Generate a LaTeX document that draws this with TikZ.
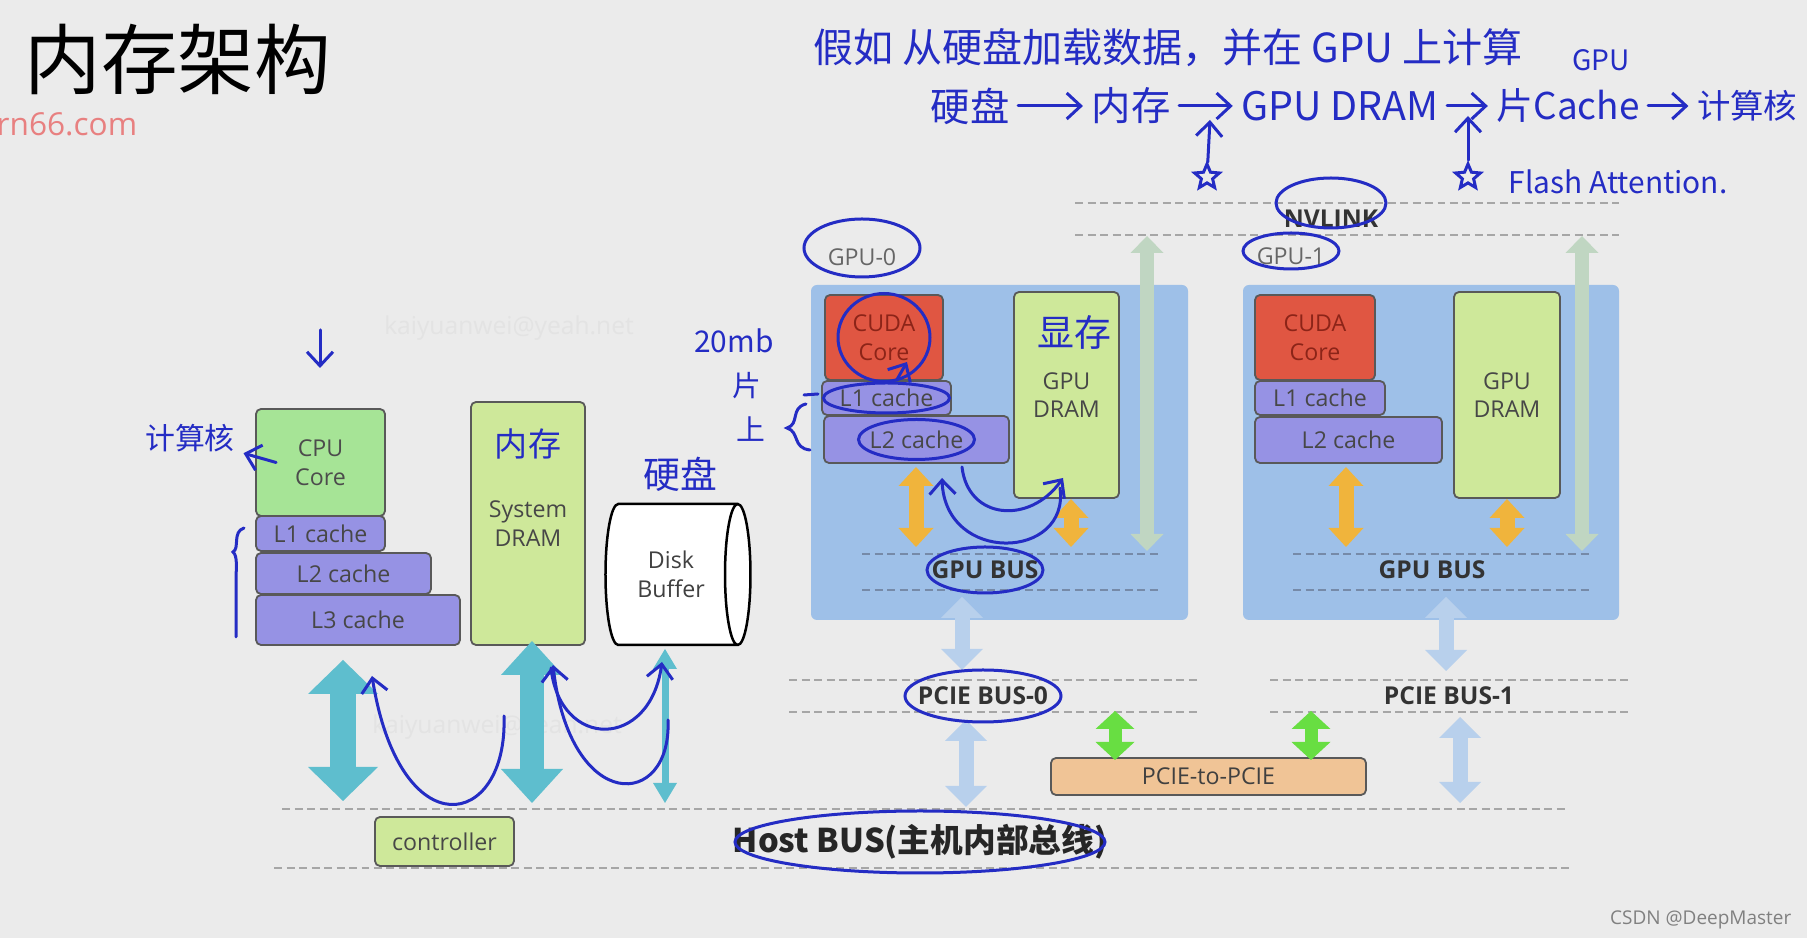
\documentclass[tikz,border=0pt]{standalone}
\usepackage{fontspec}
\setmainfont{Open Sans}
\newfontfamily\cjk{Noto Sans CJK SC}
\usetikzlibrary{arrows.meta,shapes.geometric}

\definecolor{bg}{RGB}{235,235,235}
\definecolor{cpugreen}{RGB}{166,228,150}
\definecolor{dramgreen}{RGB}{206,232,154}
\definecolor{cachepurple}{RGB}{150,146,228}
\definecolor{cudared}{RGB}{224,86,66}
\definecolor{cudatext}{RGB}{140,36,24}
\definecolor{gpublue}{RGB}{158,192,232}
\definecolor{gpudash}{RGB}{118,138,168}
\definecolor{pcietan}{RGB}{240,196,150}
\definecolor{busteal}{RGB}{94,190,206}
\definecolor{paleblue}{RGB}{184,208,236}
\definecolor{sage}{RGB}{192,214,194}
\definecolor{amber}{RGB}{240,180,60}
\definecolor{pcigreen}{RGB}{104,222,66}
\definecolor{ink}{RGB}{36,44,196}
\definecolor{markred}{RGB}{232,128,128}
\definecolor{wmgray}{RGB}{227,227,227}

\newcommand{\boxfont}{\fontsize{6.6}{8.1}\selectfont}
\newcommand{\busfont}{\fontsize{7}{8}\selectfont\bfseries}

\begin{document}
\begin{tikzpicture}[x=0.1mm, y=-0.1mm,
  every node/.style={align=center, font=\boxfont, inner sep=0pt},
  blk/.style={draw=black!65, line width=0.18mm, rounded corners=0.5mm},
  cpubox/.style={blk, fill=cpugreen, text=black!70},
  cachebox/.style={blk, fill=cachepurple, text=black!72},
  drambox/.style={blk, fill=dramgreen, text=black!72},
  cudabox/.style={blk, fill=cudared, text=cudatext},
  gpubox/.style={fill=gpublue, rounded corners=0.6mm},
  buslbl/.style={font=\busfont, text=black!80},
  busline/.style={dash pattern=on 0.8mm off 0.45mm, line width=0.22mm, draw=black!35},
  fat/.style n args={4}{draw=#1, line width=#2,
    >={Triangle[width=#3, length=#4, line width=0pt]}, <->},
  hand/.style={draw=ink, line width=0.3mm, line cap=round},
  handarr/.style={hand, -{Straight Barb[length=1.4mm, width=2.6mm]}},
  handtxt/.style={font={\cjk\fontsize{#1}{#1}\selectfont}, text=ink, inner sep=0.8mm},
  handstar/.style={star, star points=5, star point ratio=2.2, draw=ink,
    line width=0.3mm, minimum size=2.6mm, inner sep=0pt}
]
  \useasboundingbox (0,0) rectangle (1807,938);
  \clip (0,0) rectangle (1807,938);
  \fill[bg] (0,0) rectangle (1807,938);

  % title, marks
  \node[font=\cjk\fontsize{21.8}{26}\selectfont] (title) at (178,59) {内存架构};
  \node[font=\fontsize{9}{10}\selectfont, text=markred, anchor=west] (site) at (-4,124) {rn66.com};
  \node[font=\fontsize{5.4}{6}\selectfont, text=black!50, anchor=east] (csdn) at (1792,920) {CSDN @DeepMaster};
  \node[text=wmgray, font=\fontsize{7}{8}\selectfont] (wm1) at (509,328) {kaiyuanwei@yeah.net};
  \node[text=wmgray, font=\fontsize{7}{8}\selectfont] (wm2) at (497,727) {kaiyuanwei@yeah.net};

  % host side
  \node[cpubox, minimum width=12.9mm, minimum height=10.7mm] (cpu) at (320.5,462.5) {CPU\\Core};
  \node[cachebox, minimum width=12.9mm, minimum height=3.5mm] (l1c) at (320.5,533.5) {L1 cache};
  \node[cachebox, minimum width=17.5mm, minimum height=4.1mm] (l2c) at (343.5,573.5) {L2 cache};
  \node[cachebox, minimum width=20.4mm, minimum height=5mm] (l3c) at (358,620) {L3 cache};
  \node[drambox, minimum width=11.4mm, minimum height=24.3mm] (sysdram) at (528,523.5) {System\\DRAM};
  \node[cylinder, draw=black, line width=0.25mm, fill=white, shape aspect=0.55,
        minimum width=14.1mm, minimum height=14.5mm, text=black!75] (disk) at (671,574.5) {Disk\\Buffer};
  \node[drambox, minimum width=13.9mm, minimum height=4.9mm] (ctrl) at (444.5,841.5) {controller};

  % GPU-0
  \node[text=black!60] (gpu0lbl) at (862,257) {GPU-0};
  \node[gpubox, minimum width=37.7mm, minimum height=33.5mm] (gpu0) at (999.5,452.5) {};
  \node[cudabox, minimum width=11.8mm, minimum height=8.5mm] (cuda0) at (884,337.5) {CUDA\\Core};
  \node[cachebox, minimum width=12.9mm, minimum height=3.4mm] (l1g0) at (886.5,398) {L1 cache};
  \node[cachebox, minimum width=18.5mm, minimum height=4.7mm] (l2g0) at (916.5,439.5) {L2 cache};
  \node[drambox, minimum width=10.5mm, minimum height=20.6mm] (dram0) at (1066.5,395) {GPU\\DRAM};
  \draw[busline, draw=gpudash] (862,554) -- (1158,554);
  \draw[busline, draw=gpudash] (862,590) -- (1158,590);
  \node[buslbl] (gpubus0) at (985,570) {GPU BUS};

  % GPU-1
  \node[text=black!60] (gpu1lbl) at (1291,256) {GPU-1};
  \node[gpubox, minimum width=37.6mm, minimum height=33.5mm] (gpu1) at (1431,452.5) {};
  \node[cudabox, minimum width=12mm, minimum height=8.5mm] (cuda1) at (1315,337.5) {CUDA\\Core};
  \node[cachebox, minimum width=13mm, minimum height=3.4mm] (l1g1) at (1320,398) {L1 cache};
  \node[cachebox, minimum width=18.7mm, minimum height=4.6mm] (l2g1) at (1348.5,440) {L2 cache};
  \node[drambox, minimum width=10.6mm, minimum height=20.6mm] (dram1) at (1507,395) {GPU\\DRAM};
  \draw[busline, draw=gpudash] (1293,554) -- (1590,554);
  \draw[busline, draw=gpudash] (1293,590) -- (1590,590);
  \node[buslbl] (gpubus1) at (1432,570) {GPU BUS};

  % buses
  \draw[busline] (1075,203) -- (1619,203);
  \draw[busline] (1075,235) -- (1619,235);
  \node[buslbl] (nvlink) at (1331,219) {NVLINK};
  \draw[busline] (789,680) -- (1199,680);
  \draw[busline] (789,712) -- (1199,712);
  \node[buslbl] (pcie0) at (983,696) {PCIE BUS-0};
  \draw[busline] (1270,680) -- (1630,680);
  \draw[busline] (1270,712) -- (1630,712);
  \node[buslbl] (pcie1) at (1449,696) {PCIE BUS-1};
  \draw[busline] (282,809) -- (1567,809);
  \draw[busline] (274,868) -- (1570,868);
  \node[font=\cjk\fontsize{9.3}{11}\selectfont\bfseries, text=black!85] (host) at (920,842) {Host BUS(主机内部总线)};
  \node[blk, fill=pcietan, minimum width=31.5mm, minimum height=3.7mm, text=black!75] (p2p) at (1208.5,776.5) {PCIE-to-PCIE};

  % connector ends
  \coordinate (t1a) at (343,660);  \coordinate (t1b) at (343,801);
  \coordinate (t2a) at (532,641);  \coordinate (t2b) at (532,803);
  \coordinate (t3a) at (665,649);  \coordinate (t3b) at (665,803);
  \coordinate (nv0a) at (1147,236); \coordinate (nv0b) at (1147,551);
  \coordinate (nv1a) at (1582,236); \coordinate (nv1b) at (1582,551);
  \coordinate (o0a) at (916,467);  \coordinate (o0b) at (916,547);
  \coordinate (o0c) at (1071,499); \coordinate (o0d) at (1071,547);
  \coordinate (o1a) at (1346,467); \coordinate (o1b) at (1346,547);
  \coordinate (o1c) at (1507,499); \coordinate (o1d) at (1507,547);
  \coordinate (b0a) at (962,597);  \coordinate (b0b) at (962,670);
  \coordinate (h0a) at (966,720);  \coordinate (h0b) at (966,807);
  \coordinate (b1a) at (1446,597); \coordinate (b1b) at (1446,671);
  \coordinate (h1a) at (1460,717); \coordinate (h1b) at (1460,803);
  \coordinate (g0a) at (1115,711); \coordinate (g0b) at (1115,760);
  \coordinate (g1a) at (1311,711); \coordinate (g1b) at (1311,760);

  \draw[fat={busteal}{2.6mm}{7mm}{3.4mm}] (t1a) -- (t1b);
  \draw[fat={busteal}{2.4mm}{6.2mm}{3.4mm}] (t2a) -- (t2b);
  \draw[fat={busteal}{0.7mm}{2.4mm}{2mm}] (t3a) -- (t3b);
  \draw[fat={sage}{1.4mm}{3.3mm}{1.7mm}] (nv0a) -- (nv0b);
  \draw[fat={sage}{1.4mm}{3.3mm}{1.7mm}] (nv1a) -- (nv1b);
  \draw[fat={amber}{1.5mm}{3.5mm}{1.9mm}] (o0a) -- (o0b);
  \draw[fat={amber}{1.5mm}{3.5mm}{1.9mm}] (o0c) -- (o0d);
  \draw[fat={amber}{1.5mm}{3.5mm}{1.9mm}] (o1a) -- (o1b);
  \draw[fat={amber}{1.5mm}{3.5mm}{1.9mm}] (o1c) -- (o1d);
  \draw[fat={paleblue}{1.5mm}{4.2mm}{2.1mm}] (b0a) -- (b0b);
  \draw[fat={paleblue}{1.5mm}{4.2mm}{2.1mm}] (h0a) -- (h0b);
  \draw[fat={paleblue}{1.5mm}{4.2mm}{2.1mm}] (b1a) -- (b1b);
  \draw[fat={paleblue}{1.5mm}{4.2mm}{2.1mm}] (h1a) -- (h1b);
  \draw[fat={pcigreen}{1.3mm}{3.9mm}{1.8mm}] (g0a) -- (g0b);
  \draw[fat={pcigreen}{1.3mm}{3.9mm}{1.8mm}] (g1a) -- (g1b);

  % handwritten notes
  \node[handtxt=11.4] (q1) at (1168,48) {假如 从硬盘加载数据，并在 GPU 上计算};
  \node[handtxt=11.2] (w1) at (970,106) {硬盘};
  \node[handtxt=11.2] (w2) at (1131,106) {内存};
  \node[handtxt=11.2] (w3) at (1340,106) {GPU DRAM};
  \node[handtxt=10.5] (w4) at (1568,106) {片Cache};
  \node[handtxt=9.5, anchor=east] (w5) at (1806,106) {计算核};
  \node[handtxt=8] (gpusm) at (1601,60) {GPU};
  \draw[handarr] (w1) -- (w2);
  \draw[handarr] (w2) -- (w3);
  \draw[handarr] (w3) -- (w4);
  \draw[handarr] (w4) -- (w5);
  \node[handstar] (s1) at (1207,177) {};
  \node[handstar] (s2) at (1468,177) {};
  \coordinate (up1) at (1210,120);
  \coordinate (up2) at (1468,116);
  \draw[handarr] (s1) -- (up1);
  \draw[handarr] (s2) -- (up2);
  \node[handtxt=8.5, anchor=west] (fa) at (1500,182) {Flash Attention.};

  \draw[hand] ([yshift=0.9mm]gpu0lbl) ellipse [x radius=58, y radius=29];
  \draw[hand] ([yshift=1.6mm]nvlink) ellipse [x radius=55, y radius=25];
  \draw[hand] ([yshift=0.5mm]gpu1lbl) ellipse [x radius=48, y radius=18];
  \draw[hand] (cuda0) ellipse [x radius=46, y radius=44];
  \draw[hand] (l1g0) ellipse [x radius=63, y radius=15];
  \draw[hand] (l2g0) ellipse [x radius=58, y radius=20];
  \draw[hand] (gpubus0) ellipse [x radius=58, y radius=23];
  \draw[hand] (pcie0) ellipse [x radius=78, y radius=26];
  \draw[hand] (host) ellipse [x radius=185, y radius=31];

  \node[handtxt=10.5] (xc) at (1074,332) {显存};
  \node[handtxt=9.4] (nc) at (528,444) {内存};
  \node[handtxt=10.5] (yp) at (680,474) {硬盘};
  \node[handtxt=8.5] (js) at (190,438) {计算核};
  \node[handtxt=8.5] (mb) at (734,341) {20mb};
  \node[handtxt=8.2] (pian) at (747,386) {片};
  \node[handtxt=8.2] (shang) at (751,429) {上};

  \draw[handarr] ([xshift=2.1mm]cpu.west) -- (js);
  \draw[handarr] (320,330) -- (320,368);
  \draw[hand] (244,528) .. controls (232,532) and (240,548) .. (233,552)
              .. controls (238,556) and (236,570) .. (236,580) -- (236,637);
  \draw[hand] (804,395) -- (818,394);
  \draw[hand] (806,404) .. controls (790,408) and (800,424) .. (787,428)
              .. controls (800,432) and (792,448) .. (810,450);
  \draw[handarr] (l1g0) -- (907,362);
  \draw[handarr] (962,467) .. controls (968,520) and (1030,525) .. (1063,478);
  \draw[handarr] (1060,488) .. controls (1070,560) and (945,565) .. (942,478);
  \draw[handarr] (504,716) .. controls (508,830) and (400,850) .. (372,676);
  \draw[handarr] (551,668) .. controls (560,750) and (650,750) .. (662,662);
  \draw[handarr] (668,720) .. controls (672,810) and (570,815) .. (553,665);
\end{tikzpicture}
\end{document}
